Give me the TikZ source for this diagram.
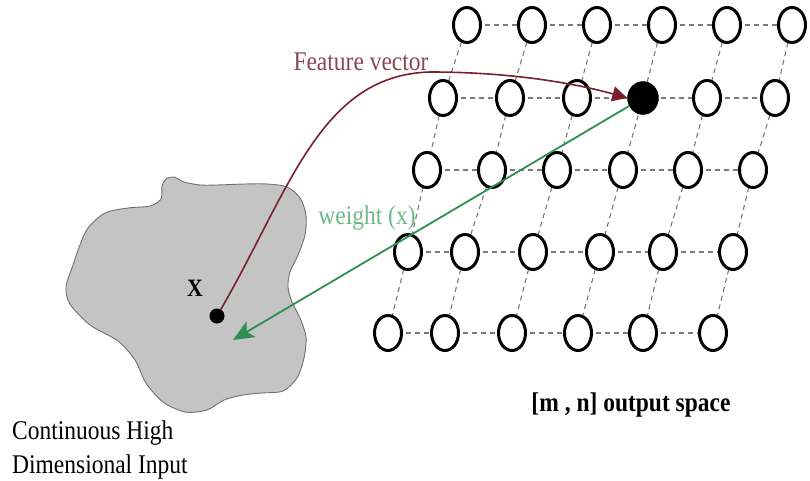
\documentclass[tikz,border=0pt]{standalone}
\usepackage{fontspec}
\setmainfont{Liberation Serif}
\newfontfamily\lbl[FakeStretch=0.87]{Liberation Serif}
\usetikzlibrary{arrows.meta,shapes.geometric}
\definecolor{fvred}{HTML}{7A1F2E}
\definecolor{fvtext}{HTML}{8A4656}
\definecolor{wgreen}{HTML}{2F8F52}
\definecolor{wtext}{HTML}{6DB98A}
\definecolor{blobfill}{HTML}{C4C4C4}
\definecolor{blobline}{HTML}{707070}
\definecolor{gridline}{HTML}{7A7A7A}
\begin{document}
\begin{tikzpicture}[x=1pt,y=-1pt,
  neuron/.style={draw=black,line width=3pt,fill=white,ellipse,minimum width=27pt,minimum height=35pt,inner sep=0pt},
  winner/.style={fill=black,draw=black,ellipse,minimum width=31pt,minimum height=33pt,inner sep=0pt},
  gridlink/.style={draw=gridline,line width=1.1pt,dash pattern=on 5pt off 4pt},
  lbltext/.style={inner sep=0pt,font=\lbl\fontsize{27}{34}\selectfont}
]
\useasboundingbox (0,0) rectangle (810,481);
% blob
\draw[fill=blobfill,draw=blobline,line width=0.9pt] plot[smooth cycle,tension=0.5] coordinates {
 (162,186) (166,179) (174,177) (184,182) (200,185) (217,185) (245,184) (267,184) (287,187) (300,198) (306,215) (305,235) (298,255) (290,272) (288,287) (292,302) (300,318) (306,337) (304,358) (297,378) (283,391) (262,393) (243,395) (224,400) (207,410) (185,412) (163,402) (146,383) (135,360) (118,341) (90,325) (70,304) (66,287) (73,265) (80,245) (88,228) (105,213) (128,208) (150,206) (161,199)};
% grid coordinates
\foreach \x [count=\i] in {467,532,597,662,727,792} {\coordinate (p1-\i) at (\x,25);}
\foreach \x [count=\i] in {443,510,577,643,707,775} {\coordinate (p2-\i) at (\x,98);}
\foreach \x [count=\i] in {427,492,557,623,688,753} {\coordinate (p3-\i) at (\x,170);}
\foreach \x [count=\i] in {408,465,533,600,663,733} {\coordinate (p4-\i) at (\x,252);}
\foreach \x [count=\i] in {388,445,512,578,643,713} {\coordinate (p5-\i) at (\x,333);}
% dashed links
\foreach \r in {1,...,5} {
  \foreach \i [evaluate=\i as \j using int(\i+1)] in {1,...,5} {
    \draw[gridlink] (p\r-\i) -- (p\r-\j);
  }
}
\foreach \r [evaluate=\r as \s using int(\r+1)] in {1,...,4} {
  \foreach \i in {1,...,6} {
    \draw[gridlink] (p\r-\i) -- (p\s-\i);
  }
}
% neurons
\foreach \r in {1,...,5} {
  \foreach \i in {1,...,6} {
    \ifnum\r=2 \ifnum\i=4 \else \node[neuron] (n\r-\i) at (p\r-\i) {}; \fi
    \else \node[neuron] (n\r-\i) at (p\r-\i) {}; \fi
  }
}
\node[winner] (win) at (p2-4) {};
% input point
\node[circle,fill=black,minimum size=15pt,inner sep=0pt] (xdot) at (217,316) {};
\node[inner sep=0pt,font=\lbl\bfseries\fontsize{25}{28}\selectfont] (xlab) at (195,288) {X};
% arrows
\draw[fvred,line width=1.6pt,-{Triangle[length=15pt,width=15pt]}] (xdot.60) .. controls (290,190) and (320,75) .. (430,72) .. controls (520,72) and (585,86) .. (win.west);
\draw[wgreen,line width=1.8pt,-{Stealth[length=21pt,width=18pt,inset=5pt]}] (win.210) -- (233,340);
% labels
\node[lbltext,text=fvtext] (fvlab) at (361,62) {Feature vector};
\node[lbltext,text=wtext] (wlab) at (367,218) {weight (x)};
\node[lbltext,font=\lbl\bfseries\fontsize{27}{34}\selectfont] (outlab) at (631,405) {[m , n] output space};
\node[lbltext,align=left,anchor=west] (inlab) at (12,450) {Continuous High\\Dimensional Input};
\end{tikzpicture}
\end{document}
